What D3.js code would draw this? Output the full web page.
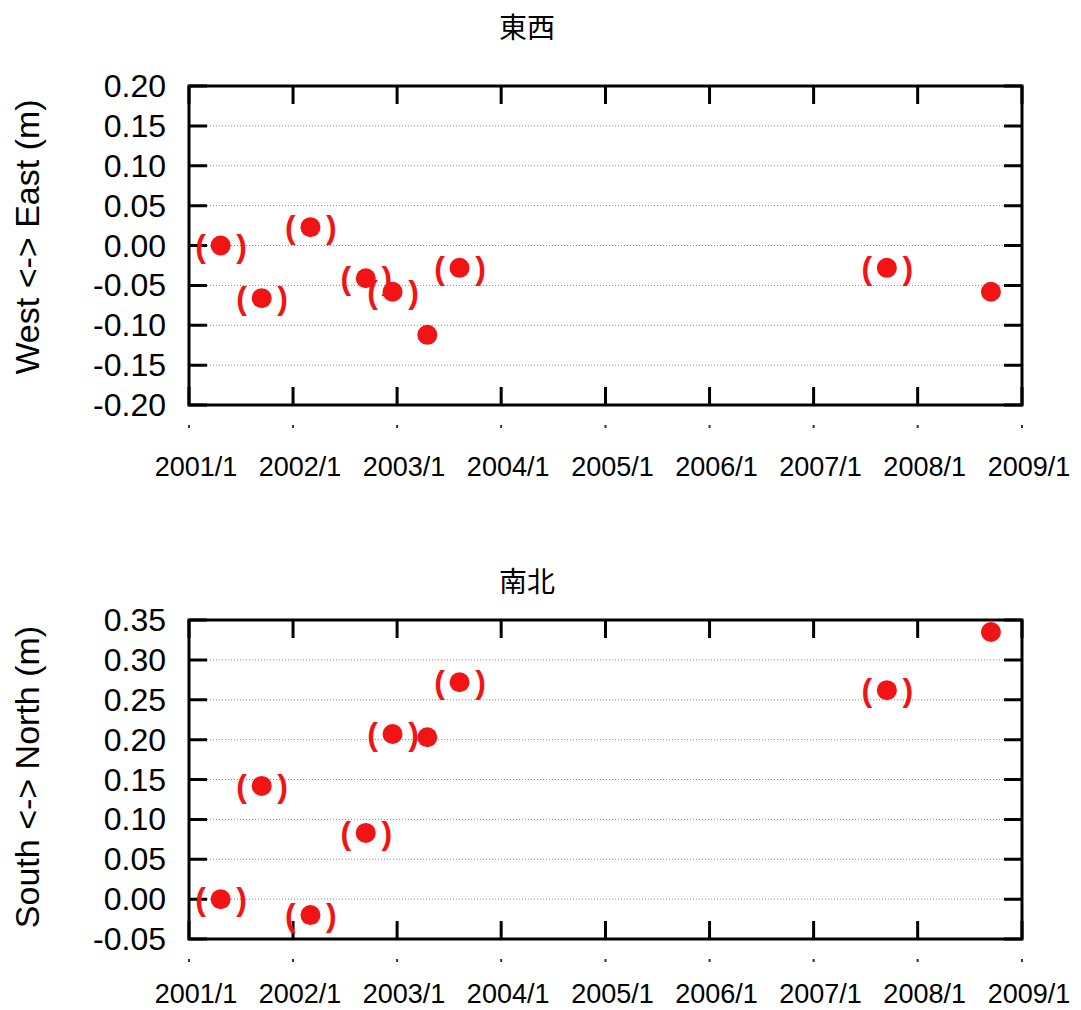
<!DOCTYPE html>
<html>
<head>
<meta charset="utf-8">
<script src="https://cdn.jsdelivr.net/npm/d3@7"></script>
<style>
body { margin: 0; background: #fff; }
text { font-family: "Liberation Sans", Arial, sans-serif; }
.grid line { stroke: #888; stroke-width: 1; stroke-dasharray: 1,2; }
</style>
</head>
<body>
<script>
// observation dates
var dates = ["2001-04-22", "2001-09-13", "2002-03-03", "2002-09-13", "2002-12-16",
             "2003-04-17", "2003-08-08", "2007-09-15", "2008-09-14"];
// displacement (m)
var eastWest = [0.000, -0.066, 0.023, -0.041, -0.058, -0.112, -0.028, -0.028, -0.058];
var northSouth = [0.000, 0.142, -0.020, 0.083, 0.207, 0.203, 0.272, 0.262, 0.335];
// points shown in parentheses
var bracketed = [true, true, true, true, true, false, true, true, false];
var yearTicks = ["2001-01-01", "2002-01-01", "2003-01-01", "2004-01-01", "2005-01-01",
                 "2006-01-01", "2007-01-01", "2008-01-01", "2009-01-01"];

var W = 1081, H = 1010;
var xLeft = 189, xRight = 1022;
var tickLen = 18;
var parse = d3.timeParse("%Y-%m-%d");
var fmt = d3.timeFormat("%Y/%-m");

var svg = d3.select("body").append("svg")
    .attr("width", W)
    .attr("height", H);

var x = d3.scaleTime()
    .domain([parse("2001-01-01"), parse("2009-01-01")])
    .range([xLeft, xRight]);

function drawPanel(cfg) {
    var y = d3.scaleLinear().domain(cfg.yDomain).range([cfg.bottom, cfg.top]);
    var g = svg.append("g");
    var yt = d3.range(cfg.yDomain[0], cfg.yDomain[1] + 1e-9, 0.05);

    //сетка
    g.append("g").attr("class", "grid")
        .selectAll("line").data(yt.slice(1, -1)).enter().append("line")
        .attr("x1", xLeft).attr("x2", xRight)
        .attr("y1", function(d) { return y(d); })
        .attr("y2", function(d) { return y(d); });

    //штрихи по y (слева и справа)
    g.append("g").selectAll("path").data(yt).enter().append("path")
        .attr("d", function(d) {
            return "M" + xLeft + " " + y(d) + " h" + tickLen +
                " M" + xRight + " " + y(d) + " h" + (-tickLen);
        })
        .attr("stroke", "black").attr("stroke-width", 3);

    //штрихи по x (сверху и снизу)
    var yearDates = yearTicks.map(parse);
    g.append("g").selectAll("path").data(yearDates).enter().append("path")
        .attr("d", function(d) {
            return "M" + x(d) + " " + cfg.top + " v" + tickLen +
                " M" + x(d) + " " + cfg.bottom + " v" + (-tickLen);
        })
        .attr("stroke", "black").attr("stroke-width", 3);

    // small marks under the frame
    g.append("g").selectAll("rect").data(yearDates).enter().append("rect")
        .attr("x", function(d) { return x(d) - 1; })
        .attr("y", cfg.bottom + 20)
        .attr("width", 2).attr("height", 3)
        .attr("fill", "#333");

    g.append("rect")
        .attr("x", xLeft).attr("y", cfg.top)
        .attr("width", xRight - xLeft).attr("height", cfg.bottom - cfg.top)
        .attr("fill", "none").attr("stroke", "black").attr("stroke-width", 3);

    // y labels
    g.append("g").selectAll("text").data(yt).enter().append("text")
        .attr("x", 166)
        .attr("y", function(d) { return y(d) + 11; })
        .attr("text-anchor", "end")
        .attr("font-size", 32)
        .text(function(d) { return (Math.abs(d) < 1e-9 ? 0 : d).toFixed(2); });

    // x labels
    g.append("g").selectAll("text").data(yearDates).enter().append("text")
        .attr("x", function(d) { return x(d) + 7; })
        .attr("y", cfg.labelY)
        .attr("text-anchor", "middle")
        .attr("font-size", 27)
        .text(function(d) { return fmt(d); });

    g.append("text")
        .attr("transform", "translate(39," + cfg.titleY + ") rotate(-90)")
        .attr("text-anchor", "middle")
        .attr("font-size", 34)
        .text(cfg.yTitle);

    g.append("text")
        .attr("x", 527).attr("y", cfg.headY)
        .attr("text-anchor", "middle")
        .attr("font-size", 28)
        .style("font-family", "'Noto Sans CJK JP', sans-serif")
        .text(cfg.title);

    // points
    var pts = g.append("g").selectAll("g").data(cfg.values).enter().append("g")
        .attr("transform", function(d, i) {
            return "translate(" + x(parse(dates[i])) + "," + y(d) + ")";
        });
    pts.append("circle").attr("r", 10).attr("fill", "#f21414");
    pts.filter(function(d, i) { return bracketed[i]; })
        .each(function() {
            var p = d3.select(this);
            p.append("text").attr("x", -20).attr("y", 11)
                .attr("text-anchor", "middle").attr("font-size", 32)
                .attr("font-weight", "bold").attr("fill", "#f21414").text("(");
            p.append("text").attr("x", 21).attr("y", 11)
                .attr("text-anchor", "middle").attr("font-size", 32)
                .attr("font-weight", "bold").attr("fill", "#f21414").text(")");
        });
}

drawPanel({ title: "東西", yTitle: "West <-> East (m)", values: eastWest,
    yDomain: [-0.20, 0.20], top: 86, bottom: 405, titleY: 237, headY: 38, labelY: 476 });
drawPanel({ title: "南北", yTitle: "South <-> North (m)", values: northSouth,
    yDomain: [-0.05, 0.35], top: 620, bottom: 939, titleY: 777, headY: 592, labelY: 1003 });
</script>
</body>
</html>
